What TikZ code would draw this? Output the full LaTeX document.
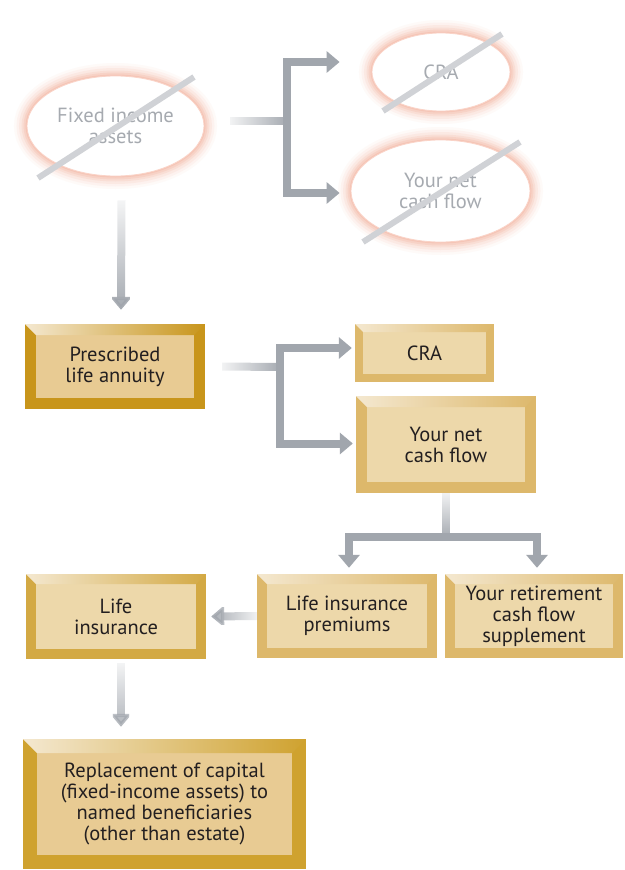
\documentclass[tikz,border=0pt]{standalone}
\usepackage{fontspec}
\setmainfont{PT Sans}
\usetikzlibrary{arrows.meta,positioning,backgrounds,calc,shapes.geometric,fadings}
\definecolor{pipeColor}{HTML}{A1A6AD}
\definecolor{strikeColor}{HTML}{D0D2D6}
\definecolor{ghostColor}{HTML}{A6AAB0}
\definecolor{glowColor}{HTML}{F08060}
\definecolor{inkColor}{HTML}{231F20}
\definecolor{rimDark}{HTML}{C8951B}
\definecolor{rimDeep}{HTML}{CFA22F}
\definecolor{rimMid}{HTML}{D3A944}
\definecolor{rimLight}{HTML}{DDB86B}
\definecolor{faceDark}{HTML}{E8CB93}
\definecolor{faceLight}{HTML}{EDD8AA}
\definecolor{bevelLight}{HTML}{F4E8D0}
\newcommand{\bodyfont}{\fontsize{20.5}{21}\selectfont}
\tikzfading[name=pipe fade, left color=transparent!92, middle color=transparent!25, right color=transparent!0]
\tikzset{
	rim/.store in=\RimW,
	rim=10,
	rim color/.store in=\RimCol,
	rim color=rimLight,
	face color/.store in=\FaceCol,
	face color=faceLight,
	bevel/.style={rectangle, inner sep=0pt, align=center, text=inkColor, font=\bodyfont, fill=\RimCol,
		path picture={
			\fill[\FaceCol] ([shift={(\RimW pt,\RimW pt)}]path picture bounding box.south west) rectangle ([shift={(-\RimW pt,-\RimW pt)}]path picture bounding box.north east);
			\shade[left color=bevelLight, right color=\RimCol] (path picture bounding box.north west) -- (path picture bounding box.north east)
				-- ([shift={(-\RimW pt,-\RimW pt)}]path picture bounding box.north east) -- ([shift={(\RimW pt,-\RimW pt)}]path picture bounding box.north west) -- cycle;}},
	ghost/.style={ellipse, inner sep=0pt, align=center, text=ghostColor, font=\bodyfont, fill=white, draw=glowColor!35, line width=.8pt},
	strike/.style={draw=strikeColor, line width=6pt},
	pipe/.style={draw=pipeColor, line width=8pt},
	pipe arrow/.style={pipe, -{Triangle[width=21pt,length=13pt]}},
	fade from/.style={path fading=pipe fade, fading angle=#1}
}

\begin{document}
\begin{tikzpicture}[x=1pt, y=-1pt]
	\path[use as bounding box] (0,0) rectangle (624,870);

	% crossed out route
	\node[ghost, minimum width=177pt, minimum height=100pt] (fixed) at (115.5,126) {Fixed income\\assets};
	\node[ghost, minimum width=138pt, minimum height=78pt] (craOld) at (441,72) {CRA};
	\node[ghost, minimum width=179pt, minimum height=102pt] (netOld) at (440.5,191) {Your net\\cash flow};
	\begin{scope}[on background layer]
		\fill[white] (0,0) rectangle (624,870);
		\foreach \w/\o in {26/.04,21/.06,16/.08,11/.1,7/.12,3/.15} {
			\draw[glowColor, draw opacity=\o, line width=\w pt] (fixed.center) ellipse [x radius=88.5, y radius=50];
			\draw[glowColor, draw opacity=\o, line width=\w pt] (craOld.center) ellipse [x radius=69, y radius=39];
			\draw[glowColor, draw opacity=\o, line width=\w pt] (netOld.center) ellipse [x radius=89.5, y radius=51];
		}
	\end{scope}
	\draw[strike] ($(fixed.center)+(-77.5,52)$) -- ($(fixed.center)+(78.5,-49)$);
	\draw[strike] ($(craOld.center)+(-58,39)$) -- ($(craOld.center)+(61,-38)$);
	\draw[strike] ($(netOld.center)+(-77.5,51)$) -- ($(netOld.center)+(79.5,-49)$);

	% annuity route
	\node[bevel, rim=11, rim color=rimDark, face color=faceDark, minimum width=180pt, minimum height=85pt] (annuity) at (115,366.5) {Prescribed\\life annuity};
	\node[bevel, rim=8, minimum width=139pt, minimum height=58pt] (craNew) at (424.5,353) {CRA};
	\node[bevel, rim=11, minimum width=180pt, minimum height=97pt] (netNew) at (446,444.5) {Your net\\cash flow};
	\node[bevel, rim=10, minimum width=180pt, minimum height=84pt] (premium) at (347,616) {Life insurance\\premiums};
	\node[bevel, rim=10, minimum width=178pt, minimum height=84pt] (suppl) at (534,616) {Your retirement\\cash flow\\supplement};
	\node[bevel, rim=10, rim color=rimMid, minimum width=180pt, minimum height=85pt] (lifeIns) at (116,616.5) {Life\\insurance};
	\node[bevel, rim=14, rim color=rimDeep, face color=faceDark, minimum width=283pt, minimum height=130pt] (capital) at (164.5,804) {Replacement of capital\\(fixed-income assets) to\\named beneficiaries\\(other than estate)};

	\coordinate (fork1) at (287,121);
	\coordinate (fork2) at (280,367);
	\coordinate (fork3) at (446,537);

	\draw[pipe, fade from=0] ([xshift=26pt,yshift=5pt]fixed.east) -- (fork1);
	\draw[pipe arrow] (fork1) |- ([xshift=-32pt,yshift=10pt]craOld.west);
	\draw[pipe arrow] (fork1) |- ([xshift=-11pt,yshift=-2pt]netOld.west);
	\draw[pipe arrow, fade from=-90] ([xshift=6pt,yshift=-24pt]fixed.south) -- ([xshift=6pt,yshift=14pt]annuity.north);

	\draw[pipe, fade from=0] ([xshift=17pt]annuity.east) -- (fork2);
	\draw[pipe arrow] (fork2) |- ([xshift=-3pt,yshift=5pt]craNew.west);
	\draw[pipe arrow] (fork2) |- ([xshift=-3pt,yshift=1pt]netNew.west);

	\draw[pipe, fade from=-90] (netNew.south) -- (fork3);
	\draw[pipe arrow] (fork3) -| ([xshift=2pt,yshift=6pt]premium.north);
	\draw[pipe arrow] (fork3) -| ([xshift=3pt,yshift=6pt]suppl.north);

	\draw[pipe arrow, fade from=180] (premium.west) -- ([xshift=5pt]lifeIns.east);
	\draw[pipe arrow, fade from=-90, shorten >=12pt] ([xshift=5pt,yshift=-4pt]lifeIns.south) -- ([xshift=5pt]lifeIns.south |- capital.north);
\end{tikzpicture}
\end{document}
